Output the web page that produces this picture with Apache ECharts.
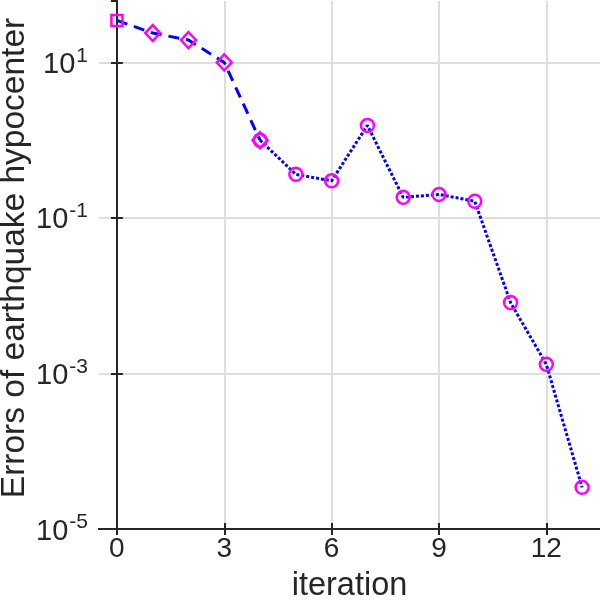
<!DOCTYPE html>
<html>
<head>
<meta charset="utf-8">
<script src="https://cdn.jsdelivr.net/npm/echarts@6/dist/echarts.min.js"></script>
<style>
html,body{margin:0;padding:0;background:#fff;}
#main{width:600px;height:600px;}
</style>
</head>
<body>
<div id="main"></div>
<script>
// iteration number and hypocenter error
var iterA = [0, 1, 2, 3, 4];
var errA = [34.7, 23.9, 19.4, 10.0, 1.0];
var iterB = [4, 5, 6, 7, 8, 9, 10, 11, 12, 13];
var errB = [1.0, 0.364, 0.30, 1.55, 0.184, 0.201, 0.164, 0.00817, 0.00131, 0.0000343];
var xTicks = [0, 3, 6, 9, 12];
var yExpTicks = [-5, -3, -1, 1];

var expMin = -5;      // bottom of the axis, 10^-5
var expMax = 1.79;    // top of the axis

// value axis holds log10(err) shifted so that min is 0
function toAxis(v) { return Math.log10(v) - expMin; }

var font = 'Liberation Sans, Arial, Helvetica, sans-serif';
var ink = '#262626';
var gridGray = '#dedede';

var dataA = [];
for (var i = 0; i < iterA.length; i++) {
    var item = { value: [iterA[i], toAxis(errA[i])] };
    if (i == 0) { item.symbol = 'rect'; item.symbolSize = 11; }
    dataA.push(item);
}
var dataB = [];
for (var j = 0; j < iterB.length; j++) {
    dataB.push([iterB[j], toAxis(errB[j])]);
}

var chart = echarts.init(document.getElementById('main'));
var option = {
    animation: false,
    grid: { left: 99, right: 0, top: 1, bottom: 71, containLabel: false, outerBoundsMode: 'none' },
    xAxis: [{
        type: 'value',
        min: -0.5,
        max: 13.5,
        name: 'iteration',
        nameLocation: 'middle',
        nameGap: 41,
        nameMoveOverlap: false,
        nameTextStyle: { fontFamily: font, fontSize: 32.5, color: ink },
        axisLine: { show: true, lineStyle: { color: ink, width: 2 } },
        axisTick: { show: true, inside: true, length: 6, lineStyle: { color: ink, width: 2 }, customValues: xTicks },
        axisLabel: { fontFamily: font, fontSize: 28, color: ink, margin: 6, customValues: xTicks },
        splitLine: { show: false }
    }, {
        type: 'value',
        position: 'top',
        min: -0.5,
        max: 13.5,
        axisLine: { show: true, lineStyle: { color: ink, width: 2 } },
        axisTick: { show: true, inside: true, length: 6, lineStyle: { color: ink, width: 2 }, customValues: xTicks },
        axisLabel: { show: false },
        splitLine: { show: false }
    }],
    yAxis: [{
        type: 'value',
        min: 0,
        max: expMax - expMin,
        interval: 2,
        name: 'Errors of earthquake hypocenter',
        nameLocation: 'middle',
        nameGap: 67,
        nameMoveOverlap: false,
        nameTextStyle: { fontFamily: font, fontSize: 33.5, color: ink, padding: [0, 0, 0, 14] },
        axisLine: { show: true, lineStyle: { color: ink, width: 2 } },
        axisTick: { show: true, inside: true, length: 6, lineStyle: { color: ink, width: 2 } },
        axisLabel: {
            margin: 11,
            showMaxLabel: false,
            formatter: function (v) {
                var e = Math.round(v + expMin);
                if (yExpTicks.indexOf(e) < 0) return '';
                return '{b|10}{s|' + e + '}';
            },
            rich: {
                b: { fontFamily: font, fontSize: 29, color: ink, verticalAlign: 'bottom', lineHeight: 34 },
                s: { fontFamily: font, fontSize: 21, color: ink, verticalAlign: 'top', lineHeight: 20, padding: [0, 0, 0, 1] }
            }
        },
        splitLine: { show: true, showMaxLine: false, lineStyle: { color: gridGray, width: 2 } }
    }, {
        type: 'value',
        position: 'right',
        min: 0,
        max: expMax - expMin,
        interval: 2,
        axisLine: { show: true, lineStyle: { color: ink, width: 2 } },
        axisTick: { show: true, inside: true, length: 6, lineStyle: { color: ink, width: 2 } },
        axisLabel: { show: false },
        splitLine: { show: false }
    }],
    series: [{
        type: 'line',
        data: dataA,
        xAxisIndex: 0,
        yAxisIndex: 0,
        symbol: 'diamond',
        symbolSize: [15, 16],
        showAllSymbol: true,
        lineStyle: { color: '#0000ff', width: 3, type: [11, 7] },
        itemStyle: { color: 'rgba(0,0,0,0)', borderColor: '#ff00ff', borderWidth: 2.5 },
        z: 3
    }, {
        type: 'line',
        data: dataB,
        xAxisIndex: 0,
        yAxisIndex: 0,
        symbol: 'circle',
        symbolSize: 13,
        showAllSymbol: true,
        lineStyle: { color: '#0000ff', width: 3, type: [3, 2] },
        itemStyle: { color: 'rgba(0,0,0,0)', borderColor: '#ff00ff', borderWidth: 2.5 },
        z: 2,
        markLine: {
            silent: true,
            symbol: 'none',
            label: { show: false },
            lineStyle: { color: gridGray, width: 2, type: 'solid' },
            z: 0,
            data: xTicks.map(function (t) { return { xAxis: t }; })
        }
    }]
};
chart.setOption(option);
</script>
</body>
</html>
